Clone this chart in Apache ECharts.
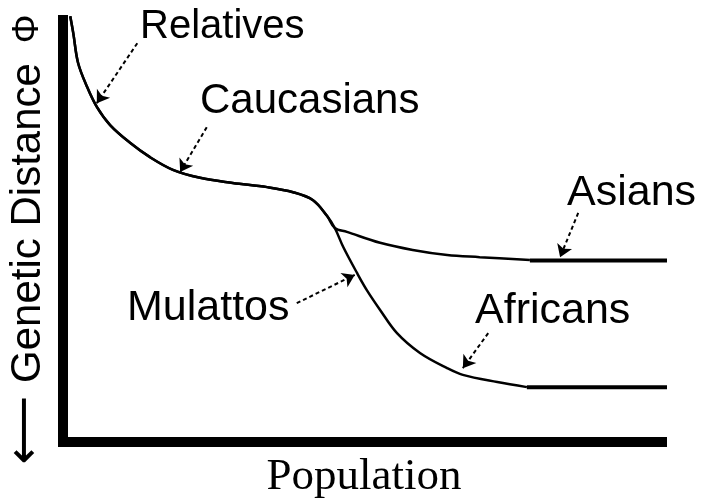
<!DOCTYPE html>
<html>
<head>
<meta charset="utf-8">
<script src="https://cdn.jsdelivr.net/npm/echarts@6/dist/echarts.min.js"></script>
<style>
  html, body { margin: 0; padding: 0; background: #fff; }
  #chart { width: 701px; height: 501px; }
</style>
</head>
<body>
<div id="chart"></div>
<script>
// shared curve (relatives -> caucasians -> split point)
var trunkX = [1.2, 1.7, 2.5, 4.0, 5.6, 7.8, 11.1, 14.4, 18.2, 22.7, 28.1, 33.8, 38.1, 41.4, 43.7, 45.0];
var trunkY = [100.9, 96.9, 89.8, 84.1, 79.4, 75.1, 70.9, 67.5, 64.5, 62.6, 61.4, 60.4, 59.2, 57.3, 53.6, 50.7];
// branches after the split
var asianX = [47.0, 52.5, 57.9, 63.6, 69.0, 77.3];
var asianY = [49.8, 47.2, 45.5, 44.3, 43.8, 43.1];
var africanX = [46.4, 48.7, 50.3, 52.5, 55.3, 59.1, 63.6, 66.2, 71.9, 76.8];
var africanY = [46.2, 40.0, 36.0, 31.3, 25.8, 21.1, 17.5, 15.9, 14.2, 13.0];
// flat ends
var asianTailX = [77.3, 100];
var asianTailY = [43.0, 43.0];
var africanTailX = [76.8, 100];
var africanTailY = [13.0, 13.0];
// pointer arrows: [fromX, fromY, toX, toY]
var pointerNames = ['Relatives', 'Caucasians', 'Mulattos', 'Asians', 'Africans'];
var pointers = [
  [12.3, 94.5, 5.6, 80.3],
  [23.8, 74.6, 19.4, 64.0],
  [38.7, 32.9, 48.3, 39.6],
  [85.3, 54.3, 82.3, 43.8],
  [70.4, 25.8, 66.2, 17.5]
];

function pairs(xs, ys) {
  var out = [];
  for (var i = 0; i < xs.length; i++) out.push([xs[i], ys[i]]);
  return out;
}

var sans = '"Liberation Sans", Arial, sans-serif';
var serif = '"Liberation Serif", "Times New Roman", serif';

var chart = echarts.init(document.getElementById('chart'), null, { renderer: 'canvas' });

var lineStyle = { color: '#000', width: 2.5 };
var tailStyle = { color: '#000', width: 4 };

var option = {
  animation: false,
  backgroundColor: '#fff',
  grid: { left: 63, right: 34, top: 20, bottom: 59 },
  xAxis: {
    type: 'value', min: 0, max: 100,
    axisLine: { show: true, lineStyle: { color: '#000', width: 10, cap: 'butt' } },
    axisTick: { show: false }, axisLabel: { show: false }, splitLine: { show: false }
  },
  yAxis: {
    type: 'value', min: 0, max: 100,
    axisLine: { show: true, lineStyle: { color: '#000', width: 10, cap: 'square' } },
    axisTick: { show: false }, axisLabel: { show: false }, splitLine: { show: false }
  },
  series: [
    {
      name: 'Asians', type: 'line', showSymbol: false, smooth: 0.35, clip: false,
      lineStyle: lineStyle,
      data: pairs(trunkX.concat(asianX), trunkY.concat(asianY)),
      markLine: {
        silent: true,
        symbol: ['none', 'arrow'],
        symbolSize: 12,
        label: { show: false },
        lineStyle: { color: '#000', width: 2, type: [4, 3] },
        data: pointers.map(function (p) {
          return [{ coord: [p[0], p[1]] }, { coord: [p[2], p[3]] }];
        })
      }
    },
    {
      name: 'Africans', type: 'line', showSymbol: false, smooth: 0.35, clip: false,
      lineStyle: lineStyle,
      data: pairs(trunkX.concat(africanX), trunkY.concat(africanY))
    },
    {
      type: 'line', showSymbol: false, clip: false, lineStyle: tailStyle,
      data: pairs(asianTailX, asianTailY)
    },
    {
      type: 'line', showSymbol: false, clip: false, lineStyle: tailStyle,
      data: pairs(africanTailX, africanTailY)
    }
  ],
  graphic: [
    { type: 'text', x: 140, y: 27, style: { text: pointerNames[0], font: '40px ' + sans, fill: '#000', textVerticalAlign: 'middle' } },
    { type: 'text', x: 200, y: 101, style: { text: pointerNames[1], font: '42px ' + sans, fill: '#000', textVerticalAlign: 'middle' } },
    { type: 'text', x: 127, y: 308, style: { text: pointerNames[2], font: '43px ' + sans, fill: '#000', textVerticalAlign: 'middle' } },
    { type: 'text', x: 567, y: 193, style: { text: pointerNames[3], font: '43px ' + sans, fill: '#000', textVerticalAlign: 'middle' } },
    { type: 'text', x: 475, y: 311, style: { text: pointerNames[4], font: '43px ' + sans, fill: '#000', textVerticalAlign: 'middle' } },
    { type: 'text', x: 364, y: 477, style: { text: 'Population', font: '45px ' + serif, fill: '#000', textAlign: 'center', textVerticalAlign: 'middle' } },
    { type: 'text', x: 28, y: 223, rotation: Math.PI / 2, style: { text: 'Genetic Distance', font: '42px ' + sans, fill: '#000', textAlign: 'center', textVerticalAlign: 'middle' } },
    { type: 'text', x: 28, y: 29, rotation: Math.PI / 2, style: { text: 'Φ', font: '36px ' + sans, fill: '#000', textAlign: 'center', textVerticalAlign: 'middle' } },
    { type: 'text', x: 27, y: 430, rotation: Math.PI / 2, style: { text: '⟵', font: '48px "DejaVu Sans", sans-serif', fill: '#000', textAlign: 'center', textVerticalAlign: 'middle' } }
  ]
};

chart.setOption(option);
</script>
</body>
</html>
